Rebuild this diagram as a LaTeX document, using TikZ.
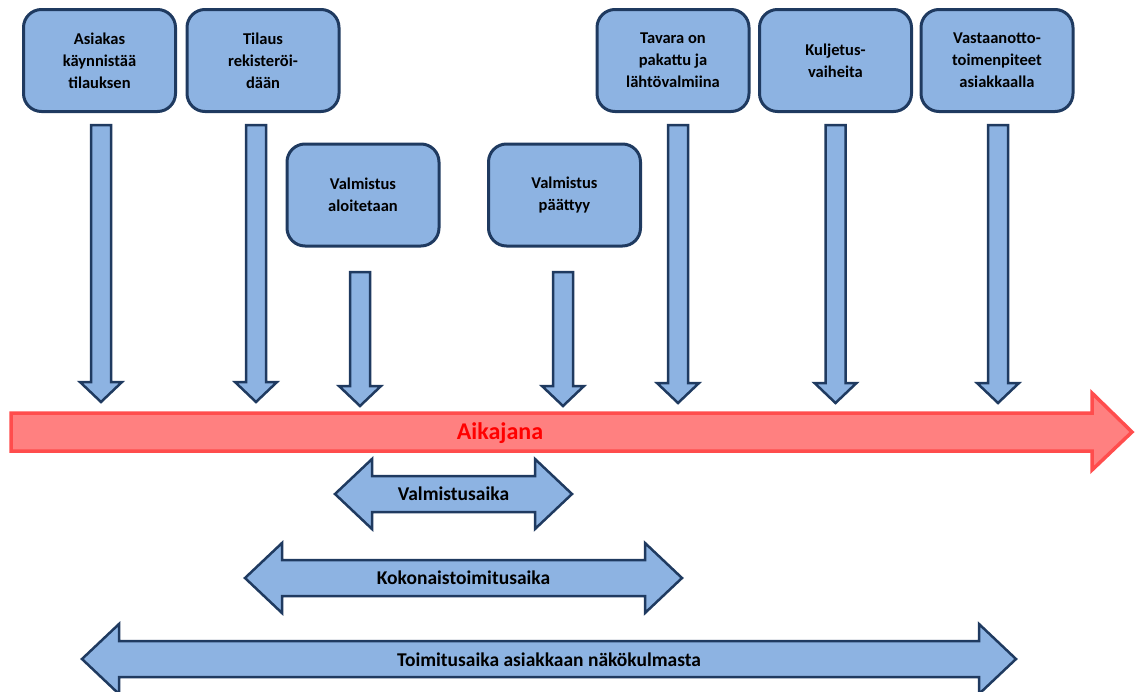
\documentclass[tikz,border=0pt]{standalone}
\usepackage{fontspec}
\setmainfont{Carlito}
\usetikzlibrary{calc}
\definecolor{boxfill}{HTML}{8DB3E2}
\definecolor{boxline}{HTML}{1F3A60}
\definecolor{tlfill}{HTML}{FF8080}
\definecolor{tlline}{HTML}{FF4D4D}
\tikzset{
  evbox/.style={draw=boxline, fill=boxfill, line width=3pt, rounded corners=18pt,
    minimum width=152pt, minimum height=102pt, align=center, inner sep=0pt,
    font=\fontsize{16.5}{22}\selectfont\bfseries},
  barrow/.style={draw=boxline, fill=boxfill, line width=2.5pt, line join=miter},
  tlarrow/.style={draw=tlline, fill=tlfill, line width=3.5pt, line join=miter},
  spanlabel/.style={font=\fontsize{19.5}{22}\selectfont\bfseries, inner sep=0pt},
}
\newcommand{\blockdown}[4]{%
  \draw[barrow] let \p1=(#1.south) in
    (\x1#2pt-10pt,-#3pt) -- (\x1#2pt-10pt,-#4pt+20pt) -- (\x1#2pt-21pt,-#4pt+20pt)
    -- (\x1#2pt,-#4pt) -- (\x1#2pt+21pt,-#4pt+20pt) -- (\x1#2pt+10pt,-#4pt+20pt)
    -- (\x1#2pt+10pt,-#3pt) -- cycle;}
\newcommand{\blockboth}[3]{% left tip, right tip, y centre
  \draw[barrow] (#1,#3) -- (#1+37,#3-35) -- (#1+37,#3-18) -- (#2-37,#3-18) -- (#2-37,#3-35)
    -- (#2,#3) -- (#2-37,#3+35) -- (#2-37,#3+18) -- (#1+37,#3+18) -- (#1+37,#3+35) -- cycle;}
\begin{document}
\begin{tikzpicture}[x=1pt,y=-1pt]
\useasboundingbox (0,0) rectangle (1138,691);
% event boxes
\node[evbox] (b1) at (99.5,60.5) {Asiakas\\käynnistää\\tilauksen};
\node[evbox] (b2) at (263,60.5) {Tilaus\\rekisteröi-\\dään};
\node[evbox] (b3) at (673,60.5) {Tavara on\\pakattu ja\\lähtövalmiina};
\node[evbox] (b4) at (835.5,60.5) {Kuljetus-\\vaiheita};
\node[evbox] (b5) at (997,60.5) {Vastaanotto-\\toimenpiteet\\asiakkaalla};
\node[evbox] (m1) at (363,195) {Valmistus\\aloitetaan};
\node[evbox] (m2) at (564.5,195) {Valmistus\\päättyy};
% down arrows
\blockdown{b1}{+1.5}{125}{402}
\blockdown{b2}{-7}{125}{402}
\blockdown{b3}{+5}{125}{403}
\blockdown{b4}{+0}{125}{403}
\blockdown{b5}{+1}{125}{403}
\blockdown{m1}{-3}{272}{406}
\blockdown{m2}{-1.5}{272}{406}
% timeline
\draw[tlarrow] (11,413) -- (1092,413) -- (1092,393) -- (1132,432) -- (1092,470) -- (1092,451) -- (11,451) -- cycle;
\node[font=\fontsize{24}{26}\selectfont\bfseries, text=red, inner sep=0pt] (tl) at (500,433) {Aikajana};
% span arrows
\blockboth{335}{572}{494}
\node[spanlabel] (s1) at (453.5,494) {Valmistusaika};
\blockboth{245}{682}{578}
\node[spanlabel] (s2) at (463.5,578) {Kokonaistoimitusaika};
\blockboth{82}{1016}{659}
\node[spanlabel] (s3) at (549,660) {Toimitusaika asiakkaan näkökulmasta};
\end{tikzpicture}
\end{document}
